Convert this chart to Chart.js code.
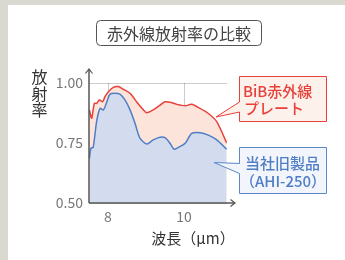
<!DOCTYPE html>
<html>
<head>
<meta charset="utf-8">
<script src="https://cdn.jsdelivr.net/npm/chart.js@4"></script>
<style>
  html, body { margin: 0; padding: 0; background: #fff; }
  canvas { display: block; }
</style>
</head>
<body>
<canvas id="emChart" width="345" height="260"></canvas>
<script>
// wavelength (um) / emissivity
const bibX = [7.51, 7.57, 7.64, 7.70, 7.77, 7.86, 7.92, 8.01, 8.14, 8.27, 8.40, 8.58, 8.75, 8.93, 9.02, 9.19, 9.37, 9.50, 9.68, 9.81, 10.03, 10.20, 10.42, 10.64, 10.86, 11.12];
const bibY = [0.888, 0.853, 0.915, 0.915, 0.929, 0.922, 0.943, 0.964, 0.982, 0.985, 0.974, 0.957, 0.922, 0.888, 0.876, 0.888, 0.908, 0.922, 0.918, 0.911, 0.905, 0.911, 0.894, 0.873, 0.839, 0.751];
const ahiX = [7.51, 7.55, 7.61, 7.70, 7.79, 7.88, 7.97, 8.05, 8.18, 8.32, 8.45, 8.58, 8.71, 8.84, 9.02, 9.19, 9.37, 9.50, 9.63, 9.74, 9.85, 10.03, 10.20, 10.42, 10.64, 10.86, 11.12];
const ahiY = [0.686, 0.728, 0.732, 0.839, 0.894, 0.888, 0.922, 0.953, 0.957, 0.953, 0.929, 0.888, 0.832, 0.770, 0.746, 0.763, 0.774, 0.772, 0.749, 0.724, 0.732, 0.749, 0.790, 0.793, 0.783, 0.763, 0.724];
const xTicks = [8, 10];
const yTicks = [0.5, 0.75, 1.0];

const toPts = (xs, ys) => xs.map((x, i) => ({ x: x, y: ys[i] }));

const RED = '#e8403a';
const BLUE = '#4f7ec6';
const JP = '"Noto Sans CJK JP", "Noto Sans", sans-serif';

function callout(ctx, box, tip, baseTop, baseBot, stroke, fill) {
  ctx.beginPath();
  ctx.moveTo(box.l, box.t);
  ctx.lineTo(box.r, box.t);
  ctx.lineTo(box.r, box.b);
  ctx.lineTo(box.l, box.b);
  ctx.lineTo(box.l, baseBot);
  ctx.lineTo(tip.x, tip.y);
  ctx.lineTo(box.l, baseTop);
  ctx.closePath();
  ctx.fillStyle = fill;
  ctx.fill();
  ctx.strokeStyle = stroke;
  ctx.lineWidth = 1;
  ctx.stroke();
}

const decor = {
  id: 'decor',
  beforeDraw(chart) {
    const ctx = chart.ctx;
    ctx.save();
    ctx.fillStyle = '#d9d9d1';
    ctx.fillRect(0, 0, 345, 260);
    ctx.fillStyle = '#ffffff';
    ctx.fillRect(8, 5, 337, 255);
    ctx.restore();
  },
  afterDraw(chart) {
    const ctx = chart.ctx;
    const a = chart.chartArea;
    ctx.save();

    // axes with arrow heads
    ctx.strokeStyle = '#555';
    ctx.lineWidth = 1.5;
    ctx.beginPath();
    ctx.moveTo(a.left, a.bottom);
    ctx.lineTo(a.left, 69);
    ctx.moveTo(a.left, a.bottom);
    ctx.lineTo(235, a.bottom);
    ctx.stroke();
    ctx.lineWidth = 1.2;
    ctx.beginPath();
    ctx.moveTo(a.left - 3.5, 73.5);
    ctx.lineTo(a.left, 69);
    ctx.lineTo(a.left + 3.5, 73.5);
    ctx.moveTo(230.5, a.bottom - 3.5);
    ctx.lineTo(235, a.bottom);
    ctx.lineTo(230.5, a.bottom + 3.5);
    ctx.stroke();

    // title box
    ctx.beginPath();
    ctx.roundRect(96.5, 20.5, 165, 25, 4);
    ctx.fillStyle = '#fff';
    ctx.fill();
    ctx.strokeStyle = '#555';
    ctx.lineWidth = 1;
    ctx.stroke();
    ctx.fillStyle = '#444';
    ctx.font = '16px ' + JP;
    ctx.textAlign = 'center';
    ctx.textBaseline = 'middle';
    ctx.fillText('赤外線放射率の比較', 179, 33.5);

    // y axis title, stacked
    ctx.fillStyle = '#333';
    ctx.font = '16px ' + JP;
    ['放', '射', '率'].forEach((c, i) => ctx.fillText(c, 39.5, 77 + i * 16.7));

    // x axis title
    ctx.font = '15px ' + JP;
    ctx.fillText('波長（μm）', 193, 238.5);

    // callouts
    callout(ctx, { l: 239.5, r: 326.5, t: 76.5, b: 121.5 }, { x: 216, y: 117 }, 102, 112, RED, '#fdf1ec');
    callout(ctx, { l: 239.5, r: 326.5, t: 147.5, b: 193.5 }, { x: 214, y: 162.5 }, 163.5, 173.5, '#5a88c8', '#f2f5fb');

    ctx.textAlign = 'left';
    ctx.font = '500 15px ' + JP;
    ctx.fillStyle = RED;
    ctx.fillText('BiB赤外線', 243, 91);
    ctx.fillText('プレート', 244, 108.5);
    ctx.fillStyle = BLUE;
    ctx.fillText('当社旧製品', 245, 163.5);
    ctx.fillText('（AHI-250）', 240, 181.5);

    ctx.restore();
  }
};

const ctx = document.getElementById('emChart').getContext('2d');
new Chart(ctx, {
  type: 'line',
  data: {
    datasets: [
      {
        label: '当社旧製品（AHI-250）',
        data: toPts(ahiX, ahiY),
        borderColor: BLUE,
        backgroundColor: '#d3dcee',
        borderWidth: 1.5,
        pointRadius: 0,
        tension: 0.25,
        fill: 'start',
        order: 0
      },
      {
        label: 'BiB赤外線プレート',
        data: toPts(bibX, bibY),
        borderColor: RED,
        backgroundColor: '#fde4db',
        borderWidth: 1.5,
        pointRadius: 0,
        tension: 0.25,
        fill: 'start',
        order: 1
      }
    ]
  },
  options: {
    responsive: false,
    animation: false,
    layout: { padding: { left: 0, top: 83, right: 118, bottom: 0 } },
    plugins: {
      legend: { display: false },
      tooltip: { enabled: false }
    },
    scales: {
      x: {
        type: 'linear',
        min: 7.5,
        max: 11.13,
        z: 1,
        afterBuildTicks: s => { s.ticks = xTicks.map(v => ({ value: v })); },
        afterFit: s => { s.height = 57; },
        grid: { color: 'rgba(0,0,0,0.2)', drawTicks: false },
        border: { display: false },
        ticks: {
          padding: 5,
          color: '#777',
          font: { family: JP, size: 14 },
          callback: v => String(v)
        }
      },
      y: {
        min: 0.5,
        max: 1.0,
        z: 1,
        afterBuildTicks: s => { s.ticks = yTicks.map(v => ({ value: v })); },
        afterFit: s => { s.width = 89; },
        grid: { color: 'rgba(0,0,0,0.2)', drawTicks: false },
        border: { display: false },
        ticks: {
          padding: 6,
          color: '#777',
          font: { family: JP, size: 14 },
          callback: v => v.toFixed(2)
        }
      }
    }
  },
  plugins: [decor]
});
</script>
</body>
</html>
